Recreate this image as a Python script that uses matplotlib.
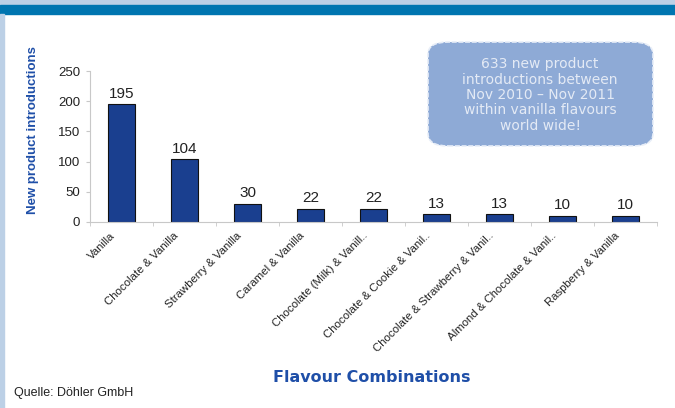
import matplotlib.pyplot as plt
from matplotlib.patches import FancyBboxPatch, Rectangle

# Flavour combinations and their new product introductions.
flavours = ["Vanilla", "Chocolate & Vanilla", "Strawberry & Vanilla",
            "Caramel & Vanilla", "Chocolate (Milk) & Vanilla",
            "Chocolate & Cookie & Vanilla", "Chocolate & Strawberry & Vanilla",
            "Almond & Chocolate & Vanilla", "Raspberry & Vanilla"]
tick_labels = ["Vanilla", "Chocolate & Vanilla", "Strawberry & Vanilla",
               "Caramel & Vanilla", "Chocolate (Milk) & Vanill..",
               "Chocolate & Cookie & Vanil..", "Chocolate & Strawberry & Vanil..",
               "Almond & Chocolate & Vanil..", "Raspberry & Vanilla"]
introductions = [195, 104, 30, 22, 22, 13, 13, 10, 10]
y_ticks = [0, 50, 100, 150, 200, 250]

blue_text = "#1f4fa8"
arial = ["Liberation Sans", "DejaVu Sans"]

fig = plt.figure(figsize=(6.75, 4.08), dpi=100)

# Header bands and left border line.
fig.patches.append(Rectangle((0, 1 - 5 / 408), 1, 5 / 408, transform=fig.transFigure,
                             color="#bcd0e6", zorder=0))
fig.patches.append(Rectangle((0, 1 - 14 / 408), 1, 9 / 408, transform=fig.transFigure,
                             color="#0075b0", zorder=0))
fig.patches.append(Rectangle((0, 0), 4 / 675, 1 - 14 / 408, transform=fig.transFigure,
                             color="#bcd0e6", zorder=0))

ax = fig.add_axes([90 / 675, 1 - 222 / 408, 567 / 675, 151 / 408])
x = range(len(flavours))
ax.bar(x, introductions, width=0.43, color="#1a3f8f", edgecolor="#111111", linewidth=0.8)
for i, v in enumerate(introductions):
    ax.text(i, v + 6, str(v), ha="center", va="bottom", fontsize=11, color="#222222",
            family=arial)

ax.set_xlim(-0.5, len(flavours) - 0.5)
ax.set_ylim(0, 250)
ax.set_yticks(y_ticks)
ax.set_yticklabels([str(t) for t in y_ticks], fontsize=9.5, color="#222222", family=arial)
ax.set_xticks([i - 0.18 for i in x])
ax.set_xticklabels(tick_labels, rotation=45, ha="right", rotation_mode="anchor",
                   fontsize=8.2, color="#222222", family=arial)
ax.set_xticks([i + 0.5 for i in range(-1, len(flavours))], minor=True)
ax.tick_params(axis="x", which="major", length=0, pad=6)
ax.tick_params(axis="x", which="minor", length=3, color="#c8c8c8")
ax.tick_params(axis="y", length=3, color="#c8c8c8", pad=4)
for side in ["top", "right"]:
    ax.spines[side].set_visible(False)
for side in ["left", "bottom"]:
    ax.spines[side].set_color("#c8c8c8")

fig.text(33 / 675, 1 - 130 / 408, "New product introductions", rotation=90,
         ha="center", va="center", fontsize=9.5, fontweight="bold", color=blue_text,
         family=arial)
fig.text(372 / 675, 1 - 377 / 408, "Flavour Combinations", ha="center", va="center",
         fontsize=11.5, fontweight="bold", color=blue_text)
fig.text(14 / 675, 1 - 393 / 408, "Quelle: Döhler GmbH", ha="left", va="center",
         fontsize=9, family=arial, stretch="condensed", color="#222222")

# Callout box.
box = FancyBboxPatch((428 / 675, 1 - 146 / 408), 225 / 675, 104 / 408,
                     boxstyle="round,pad=0,rounding_size=0.03",
                     transform=fig.transFigure, facecolor="#8eaad6",
                     edgecolor="#e8eef8", linewidth=1.2, linestyle=(0, (3, 1)))
fig.patches.append(box)
fig.text(540 / 675, 1 - 95 / 408,
         "633 new product\nintroductions between\nNov 2010 \u2013 Nov 2011\nwithin vanilla flavours\nworld wide!",
         ha="center", va="center", fontsize=10, color="#e4eaf5", linespacing=1.12)

fig.savefig("out.png", dpi=100)
